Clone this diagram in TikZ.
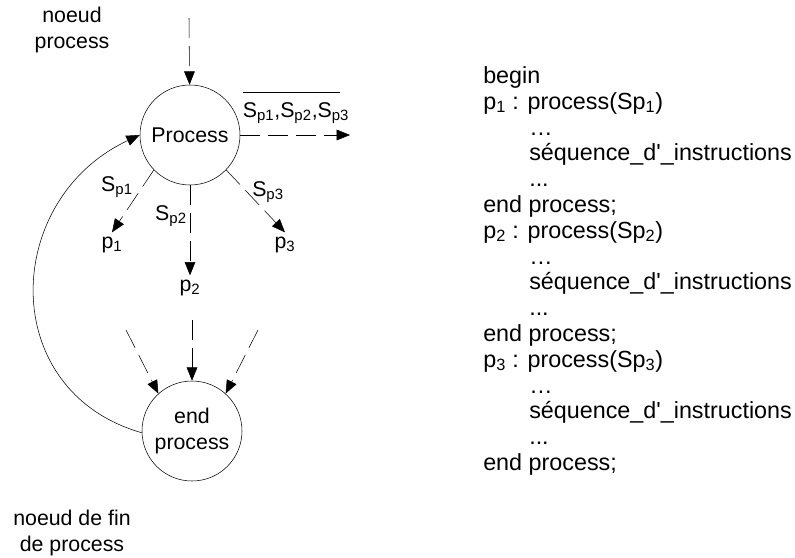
\documentclass[tikz,border=0pt]{standalone}
\usepackage{fontspec}
\setmainfont{Liberation Sans}
\usetikzlibrary{arrows.meta}

\tikzset{
  etat/.style={draw, circle, minimum size=75pt, inner sep=0pt, align=center},
  fleche/.style={-{Triangle[length=10pt,width=8pt]}},
  tirets/.style={dash pattern=on 15pt off 6pt},
  ligne/.style={anchor=base west, inner sep=0pt, font=\fontsize{17.5}{21}\selectfont},
}

\begin{document}
\begin{tikzpicture}[x=0.75pt, y=-0.75pt, font=\fontsize{16}{19}\selectfont]
  \useasboundingbox (0,0) rectangle (795,557);

  % noeuds
  \node[etat] (proc) at (190,135) {Process};
  \node[etat, font=\fontsize{16}{20}\selectfont] (endp) at (192,431) {end\\process};

  \node[align=center] (lproc) at (72,30) {noeud\\process};
  \node[align=center] (lfin) at (72,533) {noeud de fin\\de process};

  \node (p1) at (112,245) {p\textsubscript{1}};
  \node (p2) at (190,288) {p\textsubscript{2}};
  \node (p3) at (285,245) {p\textsubscript{3}};

  % etiquettes
  \node (lsp1) at (117,187) {S\textsubscript{p1}};
  \node (lsp2) at (171,216) {S\textsubscript{p2}};
  \node (lsp3) at (268,192) {S\textsubscript{p3}};
  \node[inner sep=0pt] (lsor) at (296,113) {S\textsubscript{p1},S\textsubscript{p2},S\textsubscript{p3}};
  \draw ([yshift=7pt]lsor.north west) -- ([yshift=7pt, xshift=-7pt]lsor.north east);

  % extremites libres
  \coordinate (entree) at (189,18);
  \coordinate (sortie) at (350,135);
  \coordinate (ga) at (126,330);
  \coordinate (mi) at (192,320);
  \coordinate (dr) at (258,330);

  % fleches
  \draw[fleche, tirets] (entree) -- (proc);
  \draw[fleche, tirets] (proc) -- (sortie);
  \draw[fleche, tirets] (proc.224) -- (p1.north);
  \draw[fleche, tirets] (proc.south) -- (p2.north);
  \draw[fleche, tirets] (proc.316) -- (p3.north);
  \draw[fleche, tirets] (ga) -- (endp.132);
  \draw[fleche, tirets] (mi) -- (endp.north);
  \draw[fleche, tirets] (dr) -- (endp.48);
  \draw[fleche] (endp.182) to[out=164, in=205, looseness=1.3] (proc.west);

  % code
  \node[ligne] (debut) at (483,83.5) {begin};
  \foreach \k [evaluate=\k as \y using {83.5+25.8*(5*\k-4)}] in {1,2,3} {
      \node[ligne] (tete\k) at (483,\y) {p\textsubscript{\k} : process(Sp\textsubscript{\k})};
      \node[ligne] (pa\k) at (529,\y+25.8) {…};
      \node[ligne] (seq\k) at (529,\y+51.6) {séquence\_d\textquotesingle\_instructions};
      \node[ligne] (pb\k) at (529,\y+77.4) {...};
      \node[ligne] (fin\k) at (483,\y+103.2) {end process;};
    }
\end{tikzpicture}
\end{document}
